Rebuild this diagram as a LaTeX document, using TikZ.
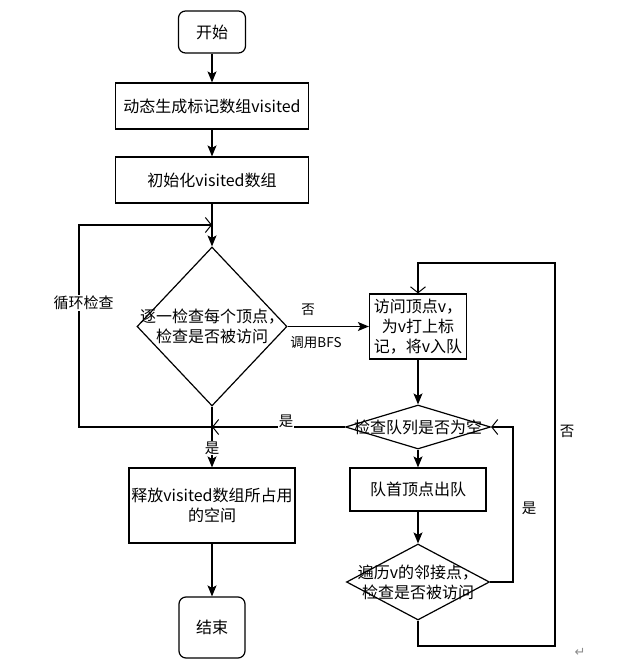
\documentclass[tikz,border=0pt]{standalone}
\usepackage{fontspec}
\setmainfont{Noto Sans CJK SC}
\newfontfamily\symfont{DejaVu Sans}
\usetikzlibrary{shapes.geometric,arrows.meta}
\begin{document}
\begin{tikzpicture}[x=1pt,y=-1pt,
  line width=1.2pt,
  every node/.style={font=\fontsize{16}{20}\selectfont, align=center, inner sep=0pt},
  proc/.style={draw, rectangle},
  term/.style={draw, rectangle, rounded corners=7pt},
  dia/.style={draw, diamond},
  lab/.style={fill=white, font=\fontsize{14.5}{16}\selectfont, inner sep=1pt},
  fa/.style={-{Stealth[length=11pt,width=9pt,inset=2.5pt]}},
  oa/.style={-{Straight Barb[length=6pt,width=15pt,line width=1pt]}},
]
\useasboundingbox (0,0) rectangle (623,660);

\node[term, minimum width=67pt, minimum height=42pt] (start) at (212,32) {开始};
\node[proc, minimum width=193pt, minimum height=46pt] (gen) at (212,106) {动态生成标记数组visited};
\node[proc, minimum width=193pt, minimum height=46pt] (init) at (212,180) {初始化visited数组};
\node[dia, minimum width=150pt, minimum height=159pt] (chk) at (212,326.5) {};
\node (chkt) at (212,326.5) {逐一检查每个顶点，\\检查是否被访问};
\node[proc, minimum width=97pt, minimum height=65pt] (visit) at (418,326.5) {访问顶点v，\\为v打上标\\记，将v入队};
\node[dia, minimum width=145pt, minimum height=44pt] (qe) at (418,427) {};
\node (qet) at (418,427) {检查队列是否为空};
\node[proc, minimum width=136pt, minimum height=43pt] (deq) at (418,489.5) {队首顶点出队};
\node[dia, minimum width=143pt, minimum height=76pt] (nb) at (418,582) {};
\node (nbt) at (418,582) {遍历v的邻接点，\\检查是否被访问};
\node[proc, minimum width=166pt, minimum height=75pt] (rel) at (212,505.5) {释放visited数组所占用\\的空间};
\node[term, minimum width=66pt, minimum height=61pt] (end) at (212,627.5) {结束};

\coordinate (j) at (212,427);
\coordinate (lp1) at (79,427);
\coordinate (lp2) at (79,225);
\coordinate (lp3) at (212,225);
\coordinate (r1) at (513,582);
\coordinate (r2) at (513,427);
\coordinate (b1) at (418,646);
\coordinate (b2) at (555,646);
\coordinate (b3) at (555,263);
\coordinate (b4) at (418,263);

\draw[fa] (start) -- (gen);
\draw[fa] (gen) -- (init);
\draw[fa] (init.south) -- (chk.north);
\draw[fa] (chk.east) -- (visit.west);
\draw[fa] (visit.south) -- (qe.north);
\draw[fa] (qe.south) -- (deq.north);
\draw[fa] (deq.south) -- (nb.north);
\draw[fa] (chk.south) -- (rel.north);
\draw[fa] (rel.south) -- (end.north);
\draw[oa] (qe.west) -- (j);
\draw[oa] (j) -- (lp1) -- (lp2) -- (lp3);
\draw[oa] (nb.east) -- (r1) -- (r2) -- (qe.east);
\draw[oa] (nb.south) -- (b1) -- (b2) -- (b3) -- (b4) -- (visit.north);

\node[lab, fill=none, font=\fontsize{13.5}{15}\selectfont] (no1) at (308,310) {否};
\node[lab, fill=none, font=\fontsize{13.5}{15}\selectfont] (bfs) at (316,343) {调用BFS};
\node[lab, font=\fontsize{15}{17}\selectfont] (loop) at (83.5,303) {循环检查};
\node[lab] (yes1) at (286,421) {是};
\node[lab] (yes2) at (212,448) {是};
\node[lab] (yes3) at (529,508) {是};
\node[lab] (no2) at (567,431) {否};
\node[font=\symfont\fontsize{13}{15}\selectfont, text=black!45] (ret) at (580,652) {↵};
\end{tikzpicture}
\end{document}
